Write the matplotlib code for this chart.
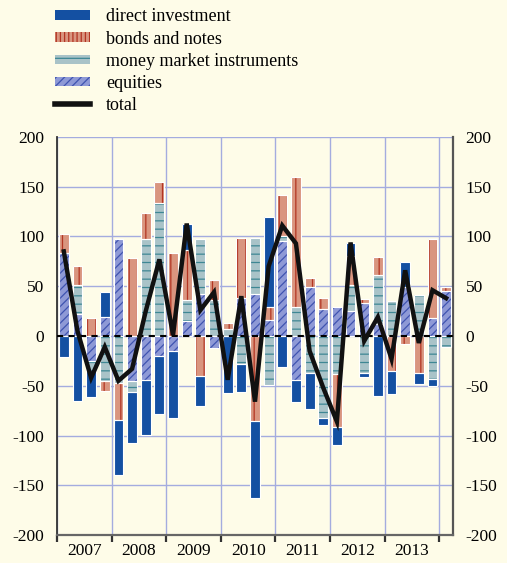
import matplotlib
matplotlib.use("Agg")
import matplotlib.pyplot as plt
import numpy as np
from matplotlib.patches import Patch
from matplotlib.lines import Line2D

# quarters 2007Q1 .. 2014Q1
years = ["2007", "2008", "2009", "2010", "2011", "2012", "2013"]

direct = [-21, -65, -26, 25, -56, -52, -55, -58, -67, 27, -30, 0,
          -57, -28, -78, 91, -31, -22, -36, -7, -19, 13, -4, -60,
          -23, 25, -11, -7, 0]
bonds = [20, 19, 18, -10, -37, 78, 27, 21, 83, 50, -40, 20,
         6, 60, -85, 13, 42, 131, 9, 11, -53, 29, 4, 18,
         -35, -8, -37, 79, 4]
money = [0, 29, -10, -45, -47, -11, 97, 134, 0, 21, 55, 36,
         7, -28, 56, -49, 5, 29, -37, -82, -38, 26, -37, 49,
         35, 0, 41, -43, -11]
equities = [83, 22, -25, 19, 97, -45, -44, -20, -15, 15, 42, -12,
            0, 38, 42, 16, 95, -44, 49, 27, 29, 25, 33, 12,
            0, 49, 0, 18, 45]
total = [85, 5, -42, -11, -45, -33, 25, 77, 1, 113, 26, 44,
         -44, 40, -66, 70, 111, 93, -15, -52, -86, 94, -5, 19,
         -23, 66, -7, 46, 38]

yticks = [200, 150, 100, 50, 0, -50, -100, -150, -200]

plt.rcParams['font.family'] = ['Liberation Serif', 'DejaVu Serif']
plt.rcParams['hatch.linewidth'] = 0.9

bg = "#fefce8"
grid_c = "#a4acdf"

series = [
    ("equities", equities, "#8e99d6", "#3f54b0", "////"),
    ("money market instruments", money, "#a9c3c8", "#3e8794", "--"),
    ("bonds and notes", bonds, "#d9957f", "#b23522", "||"),
    ("direct investment", direct, "#1450a2", "#1450a2", None),
]

fig = plt.figure(figsize=(5.07, 5.63), dpi=100, facecolor=bg)
ax = fig.add_axes([0.1124, 0.0497, 0.781, 0.707])
ax.set_facecolor(bg)

n = len(total)
x = np.arange(n)
w = 0.72
pos_base = np.zeros(n)
neg_base = np.zeros(n)
for name, vals, fc, hc, hatch in series:
    v = np.array(vals, dtype=float)
    bottoms = np.where(v >= 0, pos_base, neg_base)
    ax.bar(x, v, w, bottom=bottoms, color=fc, edgecolor=hc, linewidth=0,
           hatch=hatch, zorder=3)
    ax.bar(x, v, w, bottom=bottoms, fill=False, edgecolor="white",
           linewidth=0.8, zorder=4)
    pos_base = pos_base + np.where(v >= 0, v, 0)
    neg_base = neg_base + np.where(v < 0, v, 0)

ax.axhline(0, color="black", lw=1.5, ls=(0, (3, 2.5)), zorder=5)
ax.plot(x, total, color="#111111", lw=3.2, zorder=6, solid_joinstyle="miter")

ax.set_xlim(-0.5, n - 0.5)
ax.set_ylim(-200, 200)
ax.set_yticks(yticks)
ax.set_yticklabels([str(t) for t in yticks])
ax.tick_params(axis="y", length=0, labelsize=12.5, pad=9,
               labelleft=True, labelright=True, right=True)
ax.grid(axis="y", color=grid_c, lw=1.0, zorder=0)

bounds = np.arange(-0.5, 4 * len(years), 4)
for b in bounds:
    ax.axvline(b, color=grid_c, lw=1.0, zorder=0)
ax.set_xticks(bounds)
ax.set_xticklabels([])
ax.set_xticks(np.arange(1.5, 4 * len(years), 4), minor=True)
ax.set_xticklabels(years, minor=True)
ax.tick_params(axis="x", which="major", length=5, width=1.6, color="#333333",
               direction="out")
ax.tick_params(axis="x", which="minor", length=0, labelsize=12.5, pad=6)

ax.spines["top"].set_visible(False)
ax.spines["left"].set_color("#333333")
ax.spines["right"].set_color("#555555")
ax.spines["left"].set_linewidth(1.3)
ax.spines["right"].set_linewidth(1.6)
ax.spines["bottom"].set_color("#666666")
ax.spines["bottom"].set_linewidth(1.6)

handles = [
    Patch(facecolor="#1450a2", edgecolor="#1450a2", linewidth=0),
    Patch(facecolor="#d9957f", edgecolor="#b23522", hatch="||||", linewidth=0),
    Patch(facecolor="#a9c3c8", edgecolor="#3e8794", hatch="-", linewidth=0),
    Patch(facecolor="#8e99d6", edgecolor="#3f54b0", hatch="////", linewidth=0),
    Line2D([0], [0], color="#111111", lw=4),
]
labels = ["direct investment", "bonds and notes", "money market instruments",
          "equities", "total"]
leg = fig.legend(handles, labels, loc="upper left", bbox_to_anchor=(0.108, 0.985),
                 frameon=False, fontsize=13, handlelength=1.95, handleheight=0.4,
                 handletextpad=0.9, labelspacing=0.28, borderpad=0,
                 borderaxespad=0)

fig.savefig("out.png", dpi=100, facecolor=bg)
